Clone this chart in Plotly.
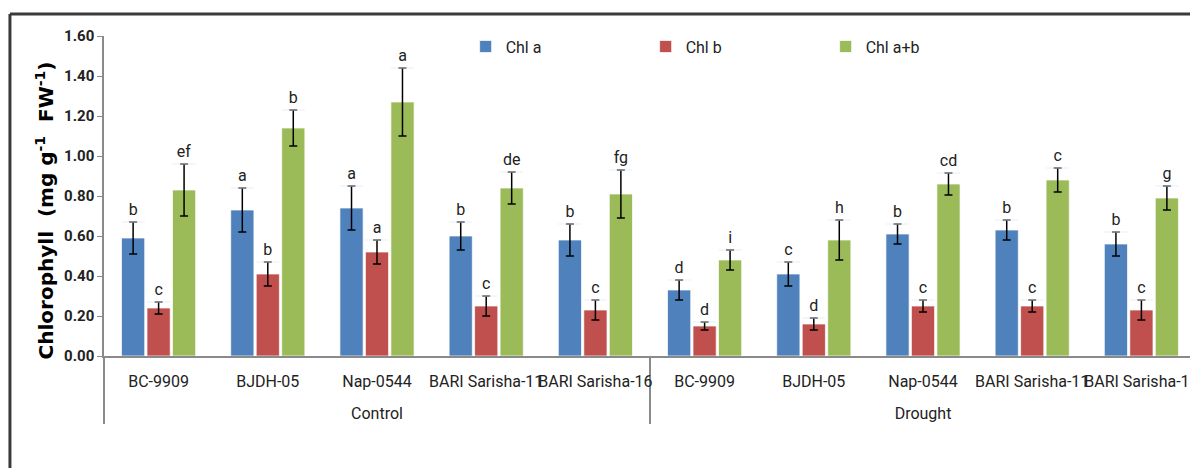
import plotly.graph_objects as go

treatments = ["Control"] * 5 + ["Drought"] * 5
genotypes = ["BC-9909", "BJDH-05", "Nap-0544", "BARI Sarisha-11", "BARI Sarisha-16"] * 2

chl_a = [0.59, 0.73, 0.74, 0.60, 0.58, 0.33, 0.41, 0.61, 0.63, 0.56]
chl_a_err = [0.08, 0.11, 0.11, 0.07, 0.08, 0.05, 0.06, 0.05, 0.05, 0.06]
chl_a_let = ["b", "a", "a", "b", "b", "d", "c", "b", "b", "b"]

chl_b = [0.24, 0.41, 0.52, 0.25, 0.23, 0.15, 0.16, 0.25, 0.25, 0.23]
chl_b_err = [0.03, 0.06, 0.06, 0.05, 0.05, 0.02, 0.03, 0.03, 0.03, 0.05]
chl_b_let = ["c", "b", "a", "c", "c", "d", "d", "c", "c", "c"]

chl_ab = [0.83, 1.14, 1.27, 0.84, 0.81, 0.48, 0.58, 0.86, 0.88, 0.79]
chl_ab_err = [0.13, 0.09, 0.17, 0.08, 0.12, 0.05, 0.10, 0.055, 0.06, 0.06]
chl_ab_let = ["ef", "b", "a", "de", "fg", "i", "h", "cd", "c", "g"]

y_title = "Chlorophyll  (mg g<sup>-1</sup>  FW<sup>-1</sup>)"

series = [
    ("Chl a", chl_a, chl_a_err, chl_a_let, "#4F81BD"),
    ("Chl b", chl_b, chl_b_err, chl_b_let, "#C0504D"),
    ("Chl a+b", chl_ab, chl_ab_err, chl_ab_let, "#9BBB59"),
]

NARROW = "Liberation Sans Narrow, Arial Narrow, Roboto, sans-serif"

# group labels pushed one line lower, as in the reference
x = [["<br>" + t for t in treatments], genotypes]

fig = go.Figure()
for i, (name, vals, errs, lets, col) in enumerate(series):
    fig.add_trace(go.Bar(
        x=x, y=vals, name=name, offsetgroup=str(i),
        marker=dict(color=col, line=dict(color="rgba(255,255,255,0.7)", width=1)),
        error_y=dict(type="data", array=errs, visible=True, color="black",
                     thickness=1.5, width=4),
    ))
for i, (name, vals, errs, lets, col) in enumerate(series):
    fig.add_trace(go.Bar(
        x=x, y=[0.0001] * len(vals), base=[v + e for v, e in zip(vals, errs)],
        offsetgroup=str(i), showlegend=False, hoverinfo="skip",
        marker=dict(color="rgba(0,0,0,0)"),
        text=lets, textposition="outside", cliponaxis=False,
        textfont=dict(family=NARROW, size=16, color="#222"),
    ))

fig.update_layout(
    width=1190, height=468,
    margin=dict(l=104, r=0, t=36, b=112),
    paper_bgcolor="white", plot_bgcolor="white",
    barmode="group", bargap=0.3, bargroupgap=0.09,
    font=dict(family=NARROW, color="#222"),
    showlegend=True,
    legend=dict(orientation="h", x=0.333, y=1.02, xanchor="left", yanchor="top",
                entrywidth=135, entrywidthmode="pixels",
                font=dict(family=NARROW, size=16, color="#222"),
                bgcolor="rgba(0,0,0,0)"),
)
fig.update_xaxes(
    type="multicategory", range=[-0.5, 9.445], automargin=False, tickangle=0,
    showline=True, linecolor="#8a8a8a", linewidth=1.5,
    ticks="", showgrid=False, showdividers=True, dividercolor="#8a8a8a",
    dividerwidth=1.5, ticklabelstandoff=10,
    tickfont=dict(family=NARROW, size=16, color="#222"),
)
fig.update_yaxes(
    range=[0, 1.6], tickvals=[0, 0.2, 0.4, 0.6, 0.8, 1.0, 1.2, 1.4, 1.6],
    tickformat=".2f", showgrid=False, zeroline=False, automargin=False,
    showline=True, linecolor="#8a8a8a", linewidth=1.5,
    ticks="outside", ticklen=5, tickcolor="#8a8a8a",
    tickfont=dict(family=NARROW, size=15, color="#222", weight="bold"),
)

fig.add_annotation(
    text=y_title, textangle=-90, showarrow=False,
    xref="paper", yref="paper", x=-0.0543, y=0.455,
    xanchor="center", yanchor="middle",
    font=dict(family="DejaVu Sans, Arial, sans-serif", size=20,
              color="black", weight="bold"),
)

fig.add_shape(type="line", xref="paper", yref="paper",
              x0=-0.0866, x1=1.05, y0=1.06875, y1=1.06875,
              line=dict(color="#3a3a3a", width=3))
fig.add_shape(type="line", xref="paper", yref="paper",
              x0=-0.0866, x1=-0.0866, y0=1.06875, y1=-0.45,
              line=dict(color="#3a3a3a", width=3))

fig.write_html("out.html",
               config={"displayModeBar": False},
               post_script="document.body.style.margin='0';")
